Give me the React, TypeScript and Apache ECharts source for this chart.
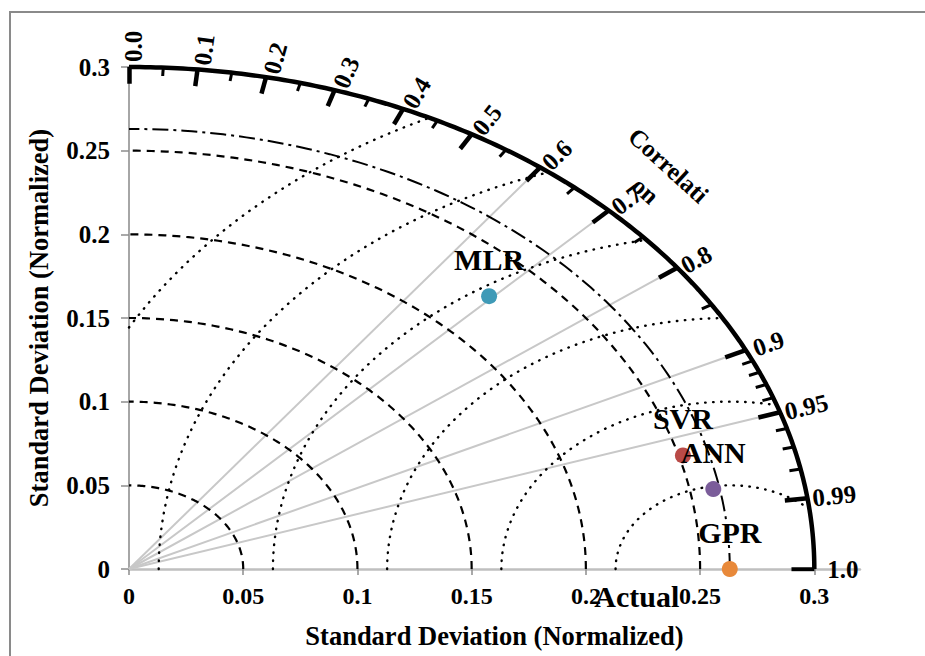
import React, { useEffect, useRef } from 'react';
import * as echarts from 'echarts';

// ---- data ----
const MODELS = ['MLR', 'SVR', 'ANN', 'GPR'];
const MODEL_STD = [0.2268, 0.2518, 0.2602, 0.263];
const MODEL_CORR = [0.695, 0.963, 0.983, 1.0];
const MODEL_COLORS = ['#3F9AB7', '#B94A47', '#7B5D9A', '#E8893A'];
const ACTUAL_STD = 0.263;
const STD_MAX = 0.3;
const STD_CIRCLES = [0.05, 0.1, 0.15, 0.2, 0.25];
const RMS_CIRCLES = [0.05, 0.1, 0.15, 0.2, 0.25, 0.3];
const CORR_MAJOR = [0, 0.1, 0.2, 0.3, 0.4, 0.5, 0.6, 0.7, 0.8, 0.9, 0.95, 0.99, 1.0];
const CORR_LABELS = ['0.0', '0.1', '0.2', '0.3', '0.4', '0.5', '0.6', '0.7', '0.8', '0.9', '0.95', '0.99', '1.0'];
const CORR_MINOR = [0.05, 0.15, 0.25, 0.35, 0.45, 0.55, 0.65, 0.75, 0.85, 0.91, 0.92, 0.93, 0.94, 0.96, 0.97, 0.98];
const CORR_RAYS = [0.6, 0.7, 0.8, 0.9, 0.95];
const X_TICKS = [0, 0.05, 0.1, 0.15, 0.2, 0.25, 0.3];
const Y_TICKS = [0, 0.05, 0.1, 0.15, 0.2, 0.25, 0.3];
const AXIS_TITLE = 'Standard Deviation (Normalized)';

const FONT = '"Liberation Serif", "Times New Roman", serif';
const CORR_LABEL_GAP: Record<string, number> = { '0.9': 8, '1.0': 13 };

function polar(r: number, c: number): number[] {
  const th = Math.acos(Math.min(1, c));
  return [r * Math.cos(th), r * Math.sin(th)];
}

function arcPts(r: number, n = 120): number[][] {
  const pts: number[][] = [];
  for (let i = 0; i <= n; i++) {
    const a = (Math.PI / 2) * (i / n);
    pts.push([r * Math.cos(a), r * Math.sin(a)]);
  }
  return pts;
}

function rmsPts(R: number, n = 160): number[][] {
  const c = ACTUAL_STD;
  const aStart = c - R < 0 ? Math.acos(-c / R) : Math.PI;
  const xi = (STD_MAX * STD_MAX - R * R + c * c) / (2 * c);
  const yi = Math.sqrt(Math.max(0, STD_MAX * STD_MAX - xi * xi));
  const aEnd = Math.atan2(yi, xi - c);
  const pts: number[][] = [];
  for (let i = 0; i <= n; i++) {
    const a = aStart + (aEnd - aStart) * (i / n);
    pts.push([c + R * Math.cos(a), R * Math.sin(a)]);
  }
  return pts;
}

export default function App() {
  const ref = useRef<HTMLDivElement>(null);
  useEffect(() => {
    if (!ref.current) return;
    const chart = echarts.init(ref.current, undefined, { renderer: 'svg' });

    const series: any[] = [];
    series.push({
      type: 'lines',
      coordinateSystem: 'cartesian2d',
      silent: true,
      z: 1,
      lineStyle: { color: '#C8C8C8', width: 2, opacity: 1 },
      data: CORR_RAYS.map((c) => ({ coords: [[0, 0], polar(STD_MAX - 0.01, c)] })),
    });
    STD_CIRCLES.forEach((r) =>
      series.push({
        type: 'line', data: arcPts(r), showSymbol: false, symbol: 'none', silent: true, clip: false, z: 2,
        lineStyle: { color: '#000', width: 2.2, type: [8, 6] },
      })
    );
    series.push({
      type: 'line', data: arcPts(ACTUAL_STD), showSymbol: false, symbol: 'none', silent: true, clip: false, z: 2,
      lineStyle: { color: '#000', width: 2, type: [16, 5, 3, 5] },
    });
    RMS_CIRCLES.forEach((R) =>
      series.push({
        type: 'line', data: rmsPts(R), showSymbol: false, symbol: 'none', silent: true, clip: false, z: 2,
        lineStyle: { color: '#000', width: 2.4, type: [0.5, 7.5], cap: 'round' },
      })
    );
    series.push({
      type: 'line', data: arcPts(STD_MAX, 200), showSymbol: false, symbol: 'none', silent: true, clip: false, z: 3,
      lineStyle: { color: '#000', width: 4.5 },
    });
    series.push({
      type: 'lines', coordinateSystem: 'cartesian2d', silent: true, z: 3,
      lineStyle: { color: '#000', width: 4.5, opacity: 1 },
      data: CORR_MAJOR.map((c) => ({ coords: [polar(STD_MAX - 0.01, c), polar(STD_MAX, c)] })),
    });
    series.push({
      type: 'lines', coordinateSystem: 'cartesian2d', silent: true, z: 3,
      lineStyle: { color: '#000', width: 3, opacity: 1 },
      data: CORR_MINOR.map((c) => ({ coords: [polar(STD_MAX - 0.005, c), polar(STD_MAX, c)] })),
    });
    series.push({
      type: 'scatter', z: 5, symbolSize: 16,
      itemStyle: { opacity: 1 },
      data: MODELS.map((m, i) => ({
        name: m,
        value: polar(MODEL_STD[i], MODEL_CORR[i]),
        itemStyle: { color: MODEL_COLORS[i], opacity: 1 },
      })),
      label: {
        show: true, position: 'top', distance: 14, formatter: '{b}', opacity: 1,
        fontFamily: FONT, fontWeight: 'bold', fontSize: 30, color: '#000',
        textBorderWidth: 0, textBorderColor: 'transparent',
      },
    });

    const fmt = (v: number) => (v > 0.3001 ? '' : String(+v.toFixed(2)));

    chart.setOption({
      animation: false,
      backgroundColor: '#fff',
      grid: { left: 129, top: 67, width: 731, height: 502 },
      xAxis: {
        type: 'value', min: 0, max: 0.32, interval: 0.05,
        axisLine: { show: true, lineStyle: { color: '#BFBFBF', width: 2.5 } },
        axisTick: { show: true, customValues: X_TICKS, length: 6, lineStyle: { color: '#8C8C8C', width: 1.5 } },
        axisLabel: {
          fontFamily: FONT, fontWeight: 'bold', fontSize: 24, color: '#000',
          customValues: X_TICKS, margin: 15, formatter: fmt,
        },
        splitLine: { show: false },
        name: AXIS_TITLE, nameLocation: 'middle', nameGap: 53,
        nameTextStyle: { fontFamily: FONT, fontWeight: 'bold', fontSize: 26.5, color: '#000' },
      },
      yAxis: {
        type: 'value', min: 0, max: 0.3, interval: 0.05,
        axisLine: { show: true, lineStyle: { color: '#A6A6A6', width: 2 } },
        axisTick: { show: true, customValues: Y_TICKS, length: 8, lineStyle: { color: '#8C8C8C', width: 1.5 } },
        axisLabel: {
          fontFamily: FONT, fontWeight: 'bold', fontSize: 25, color: '#000',
          customValues: Y_TICKS, margin: 19, formatter: fmt,
        },
        splitLine: { show: false },
        name: AXIS_TITLE, nameLocation: 'middle', nameGap: 77,
        nameTextStyle: { fontFamily: FONT, fontWeight: 'bold', fontSize: 26.5, color: '#000' },
      },
      series,
    });

    const toPx = (p: number[]) => chart.convertToPixel({ gridIndex: 0 }, p) as number[];
    const o = toPx([0, 0]);
    const graphics: any[] = [
      {
        type: 'rect', z: -10, silent: true,
        shape: { x: 10, y: 12, width: 1000, height: 1000 },
        style: { fill: 'none', stroke: '#8A8A8A', lineWidth: 2 },
      },
    ];
    CORR_MAJOR.forEach((c, i) => {
      const p = toPx(polar(STD_MAX, c));
      const ang = Math.atan2(o[1] - p[1], p[0] - o[0]);
      const gap = CORR_LABEL_GAP[CORR_LABELS[i]] ?? 5;
      const perp = 4 * Math.sin(ang);
      graphics.push({
        type: 'text', silent: true, z: 10,
        x: p[0] + gap * Math.cos(ang) + perp * Math.sin(ang),
        y: p[1] - gap * Math.sin(ang) + perp * Math.cos(ang),
        rotation: ang,
        style: {
          text: CORR_LABELS[i], fill: '#000', fontFamily: FONT, fontWeight: 'bold', fontSize: 25,
          align: 'left', verticalAlign: 'middle', textAlign: 'left', textVerticalAlign: 'middle',
        },
      });
    });
    graphics.push({
      type: 'text', silent: true, z: 10, x: 657, y: 178, rotation: -0.74,
      style: {
        text: 'Correlati\non', fill: '#000', fontFamily: FONT, fontWeight: 'bold', fontSize: 25, lineHeight: 34,
        align: 'center', verticalAlign: 'middle', textAlign: 'center', textVerticalAlign: 'middle',
      },
    });
    const a = toPx([ACTUAL_STD, 0]);
    graphics.push({
      type: 'text', silent: true, z: 10, x: a[0] - 93, y: a[1] + 27,
      style: {
        text: 'Actual', fill: '#000', fontFamily: FONT, fontWeight: 'bold', fontSize: 30,
        align: 'center', verticalAlign: 'middle', textAlign: 'center', textVerticalAlign: 'middle',
      },
    });
    chart.setOption({ graphic: { elements: graphics } });

    return () => chart.dispose();
  }, []);

  return (
    <div
      ref={ref}
      style={{ position: 'absolute', left: 0, top: 0, width: 925, height: 656, background: '#fff' }}
    />
  );
}
